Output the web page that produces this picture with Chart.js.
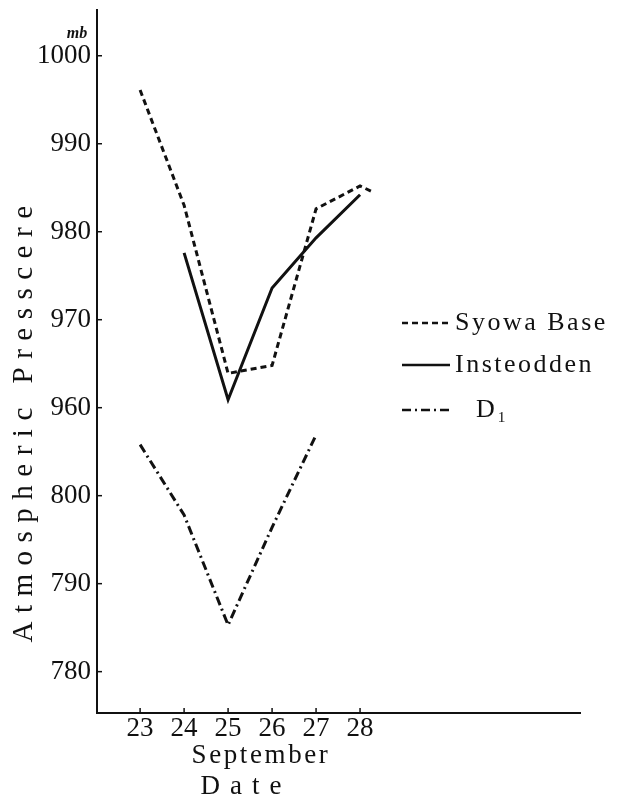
<!DOCTYPE html>
<html>
<head>
<meta charset="utf-8">
<script src="https://cdn.jsdelivr.net/npm/chart.js@4"></script>
<style>
  body { margin: 0; background: #fff; }
  canvas { display: block; }
</style>
</head>
<body>
<canvas id="pressureChart" width="618" height="797"></canvas>
<script>
// values (mb)
var syowaDays = [23, 24, 25, 26, 27, 28, 28.3];
var syowaValues = [996.1, 983, 963.9, 964.8, 982.6, 985.2, 984.5];

var insteoddenDays = [24, 25, 26, 27, 28];
var insteoddenValues = [977.6, 960.9, 973.6, 979.3, 984.2];

var d1Days = [23, 24, 25, 26, 27];
var d1Values = [805.8, 797.8, 785.3, 796.4, 806.9];

var dayTicks = [23, 24, 25, 26, 27, 28];
var pressureTicks = [1000, 990, 980, 970, 960, 800, 790, 780];

// the axis is broken: the lower section (D1) is drawn 150 mb higher
var breakOffset = 150;
var breakLimit = 955;

var serif = "'Liberation Serif', 'DejaVu Serif', serif";
var ink = '#111';

function toPoints(days, values, offset) {
  return days.map(function (d, i) {
    return { x: d, y: values[i] + (offset || 0) };
  });
}

function toAxis(label) {
  return label < 900 ? label + breakOffset : label;
}

// inside tick marks, axis titles, unit and legend
var decorations = {
  id: 'decorations',
  afterDraw: function (chart) {
    var ctx = chart.ctx;
    var x = chart.scales.x;
    var y = chart.scales.y;
    var area = chart.chartArea;

    ctx.save();
    ctx.strokeStyle = ink;
    ctx.lineWidth = 1.5;
    y.ticks.forEach(function (t) {
      var py = y.getPixelForValue(t.value);
      ctx.beginPath();
      ctx.moveTo(area.left, py);
      ctx.lineTo(area.left + 5, py);
      ctx.stroke();
    });
    x.ticks.forEach(function (t) {
      var px = x.getPixelForValue(t.value);
      ctx.beginPath();
      ctx.moveTo(px, area.bottom);
      ctx.lineTo(px, area.bottom - 5);
      ctx.stroke();
    });

    ctx.fillStyle = ink;
    ctx.textAlign = 'center';
    ctx.textBaseline = 'middle';

    // y title
    ctx.save();
    ctx.translate(24, 420);
    ctx.rotate(-Math.PI / 2);
    ctx.font = '29px ' + serif;
    ctx.letterSpacing = '8.5px';
    ctx.fillText('Atmospheric Presscere', 0, 0);
    ctx.restore();

    // x title
    ctx.textBaseline = 'alphabetic';
    ctx.font = '27px ' + serif;
    ctx.letterSpacing = '2.6px';
    ctx.fillText('September', 261, 763);
    ctx.letterSpacing = '10px';
    ctx.fillText('Date', 246, 794);

    // unit
    ctx.letterSpacing = '0px';
    ctx.font = 'italic bold 16px ' + serif;
    ctx.fillText('mb', 77, 38);

    // legend
    var rows = [323, 365, 410];
    ctx.textAlign = 'left';
    ctx.textBaseline = 'middle';
    chart.data.datasets.forEach(function (ds, i) {
      var ly = rows[i];
      ctx.save();
      ctx.strokeStyle = ds.borderColor;
      ctx.lineWidth = 2.5;
      ctx.setLineDash(ds.borderDash || []);
      ctx.beginPath();
      ctx.moveTo(402, ly);
      ctx.lineTo(450, ly);
      ctx.stroke();
      ctx.restore();
      ctx.font = '26px ' + serif;
      ctx.letterSpacing = '2.5px';
      ctx.fillText(ds.label, i === 2 ? 476 : 455, ly);
    });
    ctx.restore();
  }
};

var pressureChart = new Chart(document.getElementById('pressureChart'), {
  type: 'line',
  data: {
    datasets: [{
      label: 'Syowa Base',
      data: toPoints(syowaDays, syowaValues),
      borderColor: ink,
      borderWidth: 3,
      borderDash: [6, 4]
    }, {
      label: 'Insteodden',
      data: toPoints(insteoddenDays, insteoddenValues),
      borderColor: ink,
      borderWidth: 3
    }, {
      label: 'D₁',
      data: toPoints(d1Days, d1Values, breakOffset),
      borderColor: ink,
      borderWidth: 3,
      borderDash: [9, 4, 2, 4]
    }]
  },
  options: {
    responsive: false,
    animation: false,
    events: [],
    layout: {
      padding: { top: 10, right: 38, left: 0, bottom: 0 }
    },
    elements: {
      line: { tension: 0, fill: false },
      point: { radius: 0 }
    },
    plugins: {
      legend: { display: false },
      tooltip: { enabled: false }
    },
    scales: {
      x: {
        type: 'linear',
        min: 22.02,
        max: 33,
        grid: { display: false, drawTicks: false },
        border: { display: true, color: ink, width: 2 },
        afterBuildTicks: function (scale) {
          scale.ticks = dayTicks.map(function (v) { return { value: v }; });
        },
        afterFit: function (scale) {
          scale.height = 84;
          scale.paddingLeft = 0;
          scale.paddingRight = 0;
        },
        ticks: {
          color: ink,
          padding: 0,
          font: { family: serif, size: 27 }
        }
      },
      y: {
        type: 'linear',
        min: 925.3,
        max: 1005.2,
        grid: { display: false, drawTicks: false },
        border: { display: true, color: ink, width: 2 },
        afterBuildTicks: function (scale) {
          scale.ticks = pressureTicks.map(function (v) { return { value: toAxis(v) }; });
        },
        afterFit: function (scale) {
          scale.width = 97;
          scale.paddingTop = 0;
          scale.paddingBottom = 0;
        },
        ticks: {
          color: ink,
          padding: 6,
          font: { family: serif, size: 27 },
          callback: function (v) { return v < breakLimit ? v - breakOffset : v; }
        }
      }
    }
  },
  plugins: [decorations]
});
</script>
</body>
</html>
